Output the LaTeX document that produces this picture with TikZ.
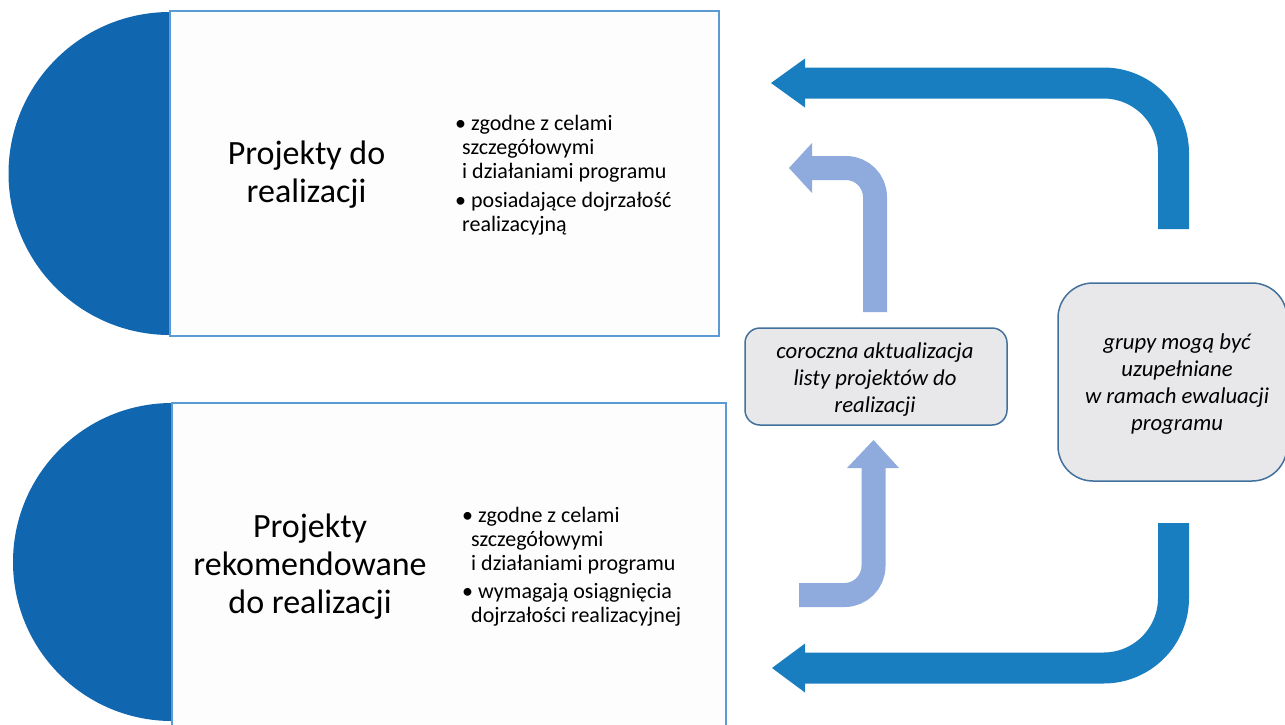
\documentclass[tikz,border=0pt]{standalone}
\usepackage{fontspec}
\setmainfont{Carlito}
\definecolor{semiblue}{HTML}{1067AF}
\definecolor{darkarrow}{HTML}{197EC0}
\definecolor{lightarrow}{HTML}{8FAADC}
\definecolor{panelline}{HTML}{5B9BD5}
\definecolor{panelfill}{HTML}{FDFDFD}
\definecolor{greyfill}{HTML}{E8E7E9}
\definecolor{greyline}{HTML}{41719C}
\tikzset{
  panel/.style={draw=panelline, fill=panelfill, line width=1.5pt, inner sep=0pt, outer sep=0pt, anchor=north west},
  greybox/.style={draw=greyline, fill=greyfill, line width=1.5pt, inner sep=0pt},
  titletext/.style={align=center, inner sep=0pt, font=\fontsize{34}{38}\selectfont},
  bullettext/.style={align=left, inner sep=0pt, anchor=north west, font=\fontsize{22}{24}\selectfont},
  boxtext/.style={align=center, inner sep=0pt, font=\fontsize{22.7}{27}\selectfont\itshape},
  bigshaft/.style={draw=darkarrow, line width=31pt, rounded corners=70pt},
  bighead/.style={fill=darkarrow},
  smallshaft/.style={draw=lightarrow, line width=24pt, rounded corners=29pt},
  smallhead/.style={fill=lightarrow},
}
\begin{document}
\begin{tikzpicture}[x=1pt,y=-1pt]
\useasboundingbox (0,0) rectangle (1285,724);
\clip (0,0) rectangle (1285,724);
\fill[white] (0,0) rectangle (1285,724);

% half discs
\begin{scope}
  \clip (0,0) rectangle (170,340);
  \fill[semiblue] (170,173.5) circle[radius=161.5];
\end{scope}
\begin{scope}
  \clip (0,380) rectangle (172,724);
  \fill[semiblue] (172,562) circle[radius=159];
\end{scope}

% panels
\node[panel, minimum width=549pt, minimum height=325pt] (p1) at (170,11) {};
\node[panel, minimum width=554pt, minimum height=340pt] (p2) at (172,403) {};

% titles
\node[titletext] (t1) at (306.5,175) {Projekty do\\realizacji};
\node[titletext] (t2) at (310,567) {Projekty\\rekomendowane\\do realizacji};

% bullet lists
\node[bullettext] (l1) at (455,115.5) {\textbullet\ zgodne z celami\\\hspace*{7pt}szczegółowymi\\\hspace*{7pt}i działaniami programu\\[5pt]\textbullet\ posiadające dojrzałość\\\hspace*{7pt}realizacyjną};
\node[bullettext] (l2) at (462,507.5) {\textbullet\ zgodne z celami\\\hspace*{9pt}szczegółowymi\\\hspace*{9pt}i działaniami programu\\[4pt]\textbullet\ wymagają osiągnięcia\\\hspace*{9pt}dojrzałości realizacyjnej};

% grey boxes
\node[greybox, minimum width=262pt, minimum height=97pt, rounded corners=15pt] (b1) at (876,376.5) {};
\node[boxtext] (bt1) at (875,380) {coroczna aktualizacja\\listy projektów do\\realizacji};
\node[greybox, minimum width=229pt, minimum height=198pt, rounded corners=35pt] (b2) at (1172.5,382) {};
\node[boxtext] (bt2) at (1177,384.5) {grupy mogą być\\uzupełniane\\w ramach ewaluacji\\programu};

% big dark arrows
\coordinate (a1s) at (1173.5,229);
\coordinate (a1c) at (1173.5,83);
\coordinate (a1e) at (804,83);
\draw[bigshaft] (a1s) -- (a1c) -- (a1e);
\fill[bighead] (805,58.5) -- (771,83) -- (805,107.5) -- cycle;

\coordinate (a2s) at (1173.5,523);
\coordinate (a2c) at (1173.5,668);
\coordinate (a2e) at (804,668);
\draw[bigshaft] (a2s) -- (a2c) -- (a2e);
\fill[bighead] (805,643.5) -- (772,668) -- (805,692.5) -- cycle;

% light arrows
\coordinate (a3s) at (875,312);
\coordinate (a3c) at (875,168);
\coordinate (a3e) at (811,168);
\draw[smallshaft] (a3s) -- (a3c) -- (a3e);
\fill[smallhead] (812,143) -- (789,168) -- (812,193) -- cycle;

\coordinate (a4s) at (799,595);
\coordinate (a4c) at (873.5,595);
\coordinate (a4e) at (873.5,467);
\draw[smallshaft] (a4s) -- (a4c) -- (a4e);
\fill[smallhead] (847,468) -- (873.5,440) -- (899,468) -- cycle;
\end{tikzpicture}
\end{document}
